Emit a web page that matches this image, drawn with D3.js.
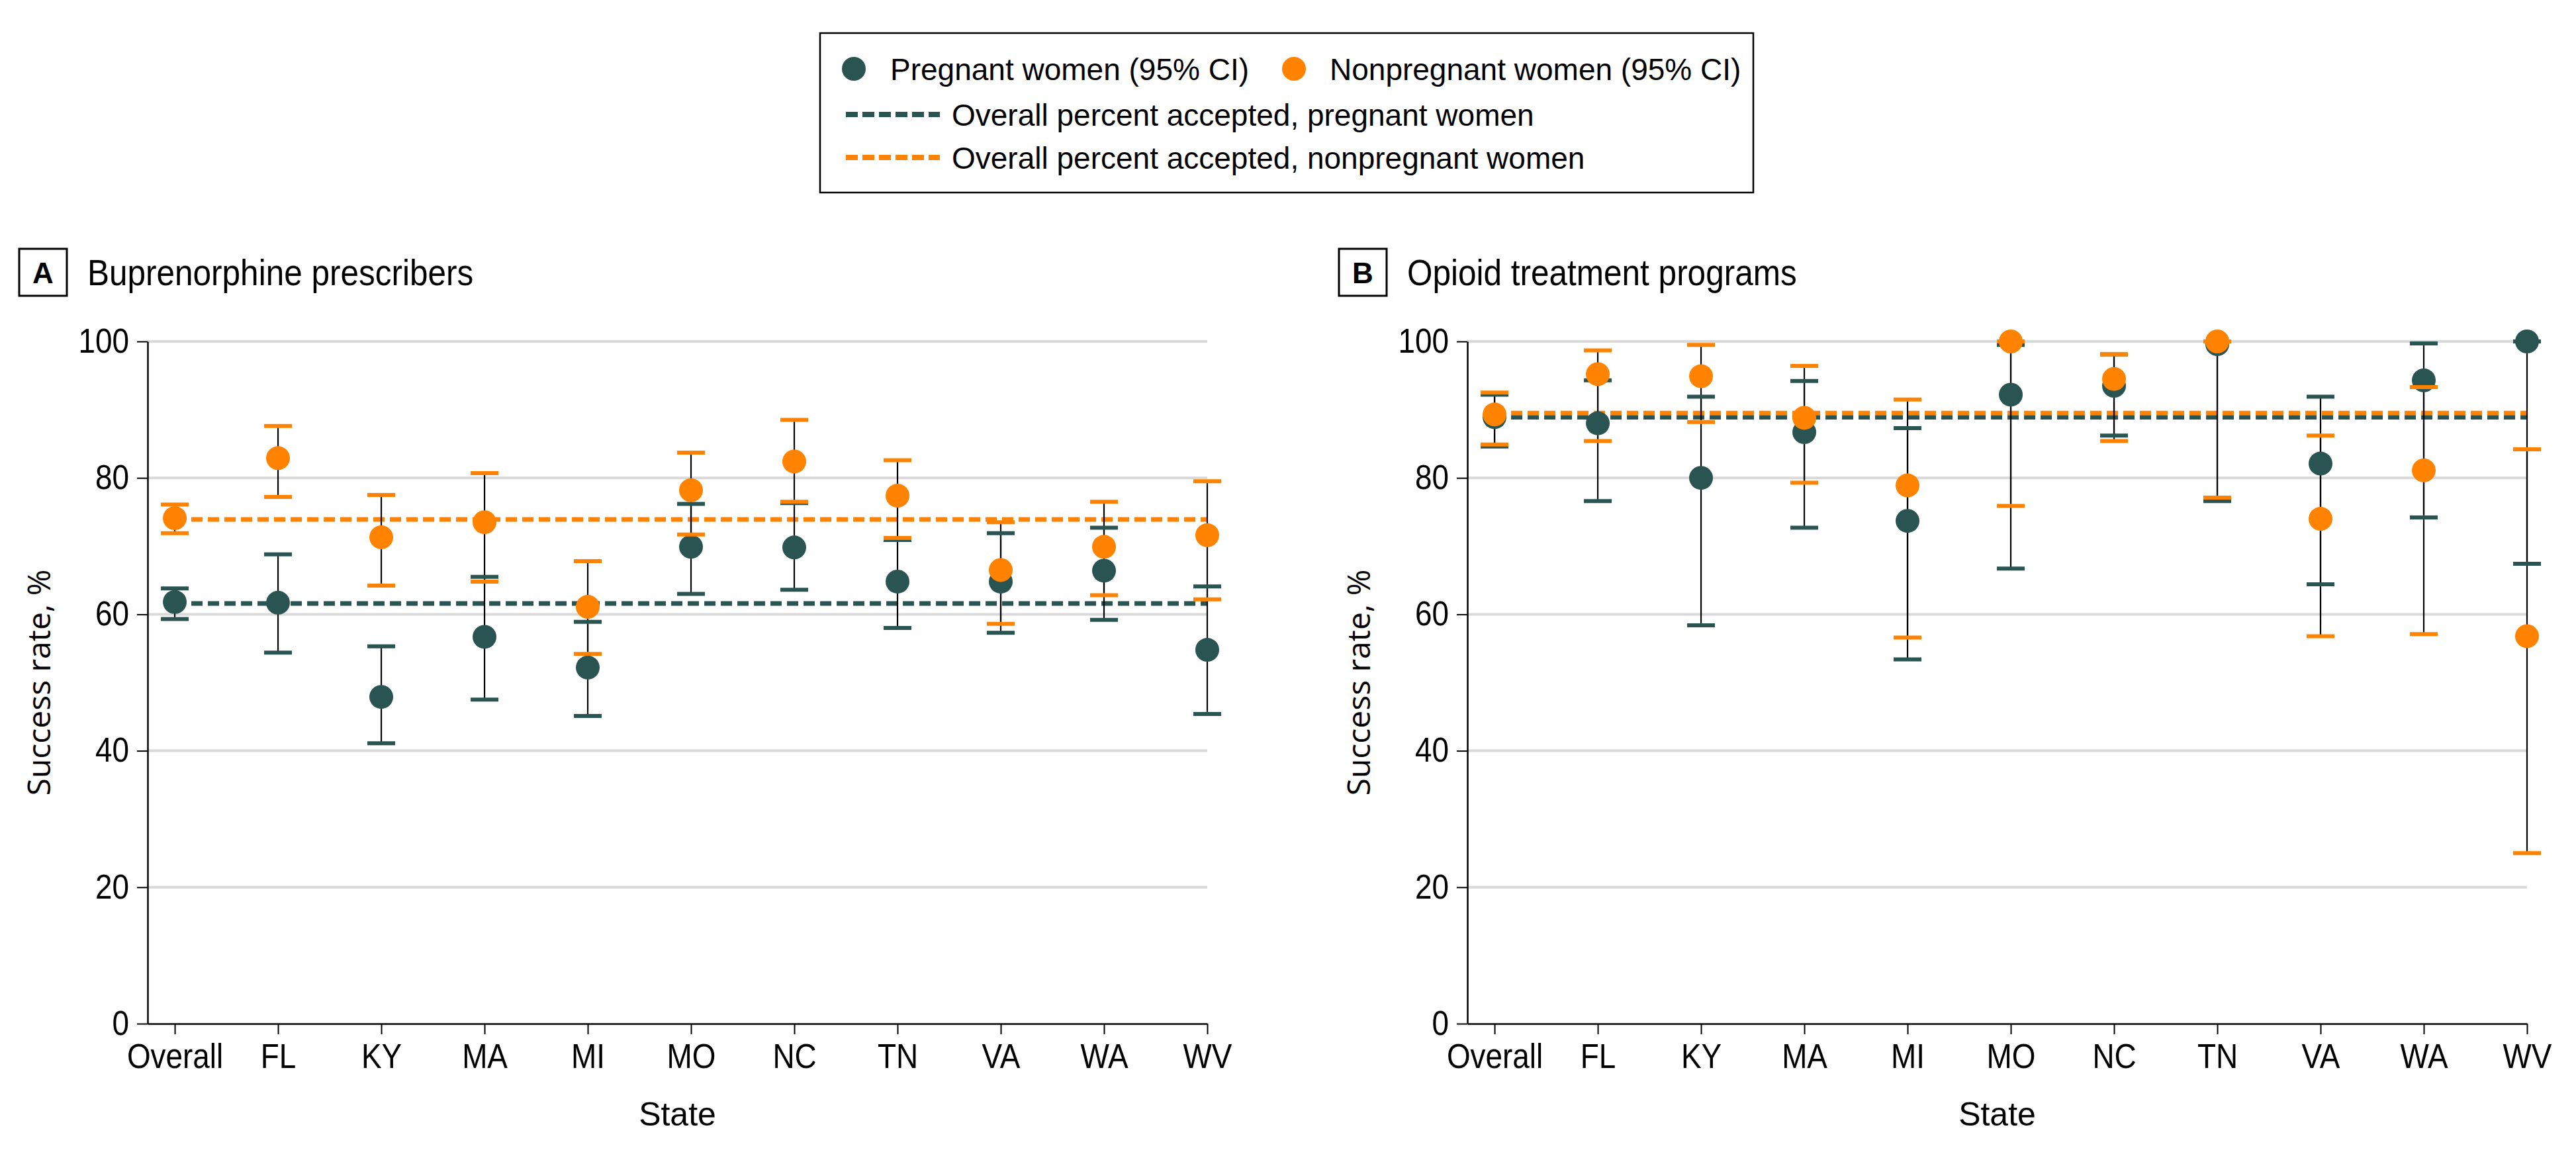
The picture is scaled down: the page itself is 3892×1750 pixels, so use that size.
<!DOCTYPE html>
<html>
<head>
<meta charset="utf-8">
<script src="https://cdn.jsdelivr.net/npm/d3@7"></script>
<style>
  html, body { margin: 0; padding: 0; background: #fff; }
  svg { display: block; }
</style>
</head>
<body>
<svg id="chart" width="3892" height="1750"></svg>
<script>
// ---------- DATA ----------
const categories = ["Overall", "FL", "KY", "MA", "MI", "MO", "NC", "TN", "VA", "WA", "WV"];
const yTicks = [0, 20, 40, 60, 80, 100];

// Panel A: Buprenorphine prescribers
const bupPregnant      = [61.8, 61.7, 47.9, 56.7, 52.2, 69.9, 69.8, 64.8, 64.8, 66.4, 54.8];
const bupPregnantLow   = [59.3, 54.4, 41.1, 47.5, 45.1, 63.0, 63.6, 58.0, 57.3, 59.2, 45.4];
const bupPregnantHigh  = [63.8, 68.8, 55.3, 65.5, 58.9, 76.2, 76.3, 70.9, 71.9, 72.7, 64.1];
const bupNonpregnant     = [74.1, 82.9, 71.3, 73.5, 61.1, 78.2, 82.4, 77.4, 66.5, 69.9, 71.6];
const bupNonpregnantLow  = [71.9, 77.2, 64.2, 64.8, 54.2, 71.7, 76.5, 71.2, 58.6, 62.8, 62.2];
const bupNonpregnantHigh = [76.1, 87.6, 77.5, 80.7, 67.8, 83.7, 88.5, 82.6, 73.5, 76.5, 79.5];
const bupOverallPregnant = 61.6;
const bupOverallNonpregnant = 73.9;

// Panel B: Opioid treatment programs
const otpPregnant      = [88.9, 88.0, 80.0, 86.7, 73.7, 92.2, 93.5, 99.6, 82.1, 94.3, 100];
const otpPregnantLow   = [84.6, 76.6, 58.4, 72.7, 53.4, 66.7, 86.2, 76.6, 64.4, 74.2, 67.4];
const otpPregnantHigh  = [92.2, 94.3, 91.9, 94.2, 87.3, 99.5, 98.1, 100, 91.9, 99.7, 100];
const otpNonpregnant     = [89.3, 95.2, 94.9, 88.8, 78.9, 100, 94.5, 100, 74.0, 81.1, 56.8];
const otpNonpregnantLow  = [84.9, 85.4, 88.2, 79.3, 56.6, 75.9, 85.4, 77.1, 56.8, 57.1, 25.0];
const otpNonpregnantHigh = [92.5, 98.7, 99.5, 96.4, 91.5, 100, 98.1, 100, 86.2, 93.3, 84.2];
const otpOverallPregnant = 88.9;
const otpOverallNonpregnant = 89.5;

const panelLetters = ["A", "B"];
const panelTitles = ["Buprenorphine prescribers", "Opioid treatment programs"];
const xAxisTitle = "State";
const yAxisTitle = "Success rate, %";
const legendLabels = [
  "Pregnant women (95% CI)",
  "Nonpregnant women (95% CI)",
  "Overall percent accepted, pregnant women",
  "Overall percent accepted, nonpregnant women"
];

// ---------- STYLE ----------
const DARK = "#2a5452";
const ORANGE = "#ff8300";
const GRID = "#d9d9d9";
const SANS = "'Liberation Sans', Arial, sans-serif";
const OPEN = "'Open Sans', 'Noto Sans', sans-serif";
const CONDENSE = 0.9;

const svg = d3.select("#chart");

const panels = [
  {
    left: 223, right: 1824,
    series: [
      { mid: bupPregnant, lo: bupPregnantLow, hi: bupPregnantHigh, color: DARK },
      { mid: bupNonpregnant, lo: bupNonpregnantLow, hi: bupNonpregnantHigh, color: ORANGE }
    ],
    overall: [ { v: bupOverallPregnant, color: DARK }, { v: bupOverallNonpregnant, color: ORANGE } ]
  },
  {
    left: 2217, right: 3818,
    series: [
      { mid: otpPregnant, lo: otpPregnantLow, hi: otpPregnantHigh, color: DARK },
      { mid: otpNonpregnant, lo: otpNonpregnantLow, hi: otpNonpregnantHigh, color: ORANGE }
    ],
    overall: [ { v: otpOverallPregnant, color: DARK }, { v: otpOverallNonpregnant, color: ORANGE } ]
  }
];

const y = d3.scaleLinear().domain([0, 100]).range([1547, 516]);

panels.forEach((p, pi) => {
  const g = svg.append("g");
  const x = d3.scalePoint().domain(categories).range([p.left, p.right]).padding(0.1316).align(1);

  // Panel label box + title
  const boxX = p.left - 194;
  g.append("rect").attr("x", boxX).attr("y", 376).attr("width", 72).attr("height", 71)
    .attr("fill", "none").attr("stroke", "#000").attr("stroke-width", 3);
  g.append("text").attr("x", boxX + 36).attr("y", 428).attr("text-anchor", "middle")
    .attr("font-family", SANS).attr("font-weight", "bold").attr("font-size", 44)
    .text(panelLetters[pi]);
  g.append("text").attr("transform", `translate(${boxX + 103},431) scale(${CONDENSE},1)`)
    .attr("font-family", SANS).attr("font-size", 55).attr("fill", "#000")
    .text(panelTitles[pi]);

  // Gridlines
  g.append("g").selectAll("line").data(yTicks.filter(t => t > 0)).join("line")
    .attr("x1", p.left).attr("x2", p.right)
    .attr("y1", d => y(d)).attr("y2", d => y(d))
    .attr("stroke", GRID).attr("stroke-width", 4);

  // Axes
  const xAxis = g.append("g").attr("transform", `translate(0,${y(0)})`)
    .call(d3.axisBottom(x).tickSize(16).tickSizeOuter(0).tickPadding(15));
  const yAxis = g.append("g").attr("transform", `translate(${p.left},0)`)
    .call(d3.axisLeft(y).tickValues(yTicks).tickFormat(d3.format("d")).tickSize(16).tickSizeOuter(0).tickPadding(12));
  [xAxis, yAxis].forEach(a => {
    a.select(".domain").attr("stroke", "#000").attr("stroke-width", 2.5);
    a.selectAll(".tick line").attr("stroke", "#000").attr("stroke-width", 2);
    a.selectAll(".tick text").attr("font-family", SANS).attr("font-size", 51).attr("fill", "#000");
  });
  xAxis.selectAll(".tick text").attr("transform", `scale(${CONDENSE},1)`);
  yAxis.selectAll(".tick text").attr("x", 0).attr("transform", `translate(-28,0) scale(${CONDENSE},1)`);

  // Axis titles
  g.append("text").attr("x", (p.left + p.right) / 2).attr("y", 1701).attr("text-anchor", "middle")
    .attr("font-family", SANS).attr("font-size", 50).text(xAxisTitle);
  g.append("text").attr("transform", `translate(${p.left - 147},${(y(0) + y(100)) / 2}) rotate(-90)`)
    .attr("text-anchor", "middle").attr("font-family", OPEN).attr("font-size", 48).text(yAxisTitle);

  // Overall reference dashed lines
  g.append("g").selectAll("line").data(p.overall).join("line")
    .attr("x1", x(categories[0])).attr("x2", x(categories[categories.length - 1]))
    .attr("y1", d => y(d.v)).attr("y2", d => y(d.v))
    .attr("stroke", d => d.color).attr("stroke-width", 7).attr("stroke-dasharray", "17,8");

  // Error bars (black stems), then caps and points
  p.series.forEach(s => {
    const rows = categories.map((c, i) => ({ c, mid: s.mid[i], lo: s.lo[i], hi: s.hi[i] }));
    g.append("g").selectAll("line").data(rows).join("line")
      .attr("x1", d => x(d.c)).attr("x2", d => x(d.c))
      .attr("y1", d => y(d.lo)).attr("y2", d => y(d.hi))
      .attr("stroke", "#000").attr("stroke-width", 2.2);
  });
  p.series.forEach(s => {
    const sg = g.append("g");
    const rows = categories.map((c, i) => ({ c, mid: s.mid[i], lo: s.lo[i], hi: s.hi[i] }));
    ["lo", "hi"].forEach(k => {
      sg.append("g").selectAll("line").data(rows).join("line")
        .attr("x1", d => x(d.c) - 21).attr("x2", d => x(d.c) + 21)
        .attr("y1", d => y(d[k])).attr("y2", d => y(d[k]))
        .attr("stroke", s.color).attr("stroke-width", 6);
    });
    sg.append("g").selectAll("circle").data(rows).join("circle")
      .attr("cx", d => x(d.c)).attr("cy", d => y(d.mid)).attr("r", 18)
      .attr("fill", s.color);
  });
});

// ---------- LEGEND ----------
const lg = svg.append("g");
lg.append("rect").attr("x", 1239).attr("y", 50).attr("width", 1410).attr("height", 241)
  .attr("fill", "#fff").attr("stroke", "#000").attr("stroke-width", 2.5);
const legendPoints = [
  { color: DARK, cx: 1290, tx: 1345, label: legendLabels[0] },
  { color: ORANGE, cx: 1955, tx: 2009, label: legendLabels[1] }
];
legendPoints.forEach(d => {
  lg.append("circle").attr("cx", d.cx).attr("cy", 104).attr("r", 18).attr("fill", d.color);
  lg.append("text").attr("x", d.tx).attr("y", 121).attr("font-family", SANS).attr("font-size", 46).text(d.label);
});
const legendLines = [
  { color: DARK, y: 173, ty: 190, label: legendLabels[2] },
  { color: ORANGE, y: 238, ty: 255, label: legendLabels[3] }
];
legendLines.forEach(d => {
  lg.append("line").attr("x1", 1278).attr("x2", 1420).attr("y1", d.y).attr("y2", d.y)
    .attr("stroke", d.color).attr("stroke-width", 8).attr("stroke-dasharray", "18,7");
  lg.append("text").attr("x", 1438).attr("y", d.ty).attr("font-family", SANS).attr("font-size", 46).text(d.label);
});
</script>
</body>
</html>
